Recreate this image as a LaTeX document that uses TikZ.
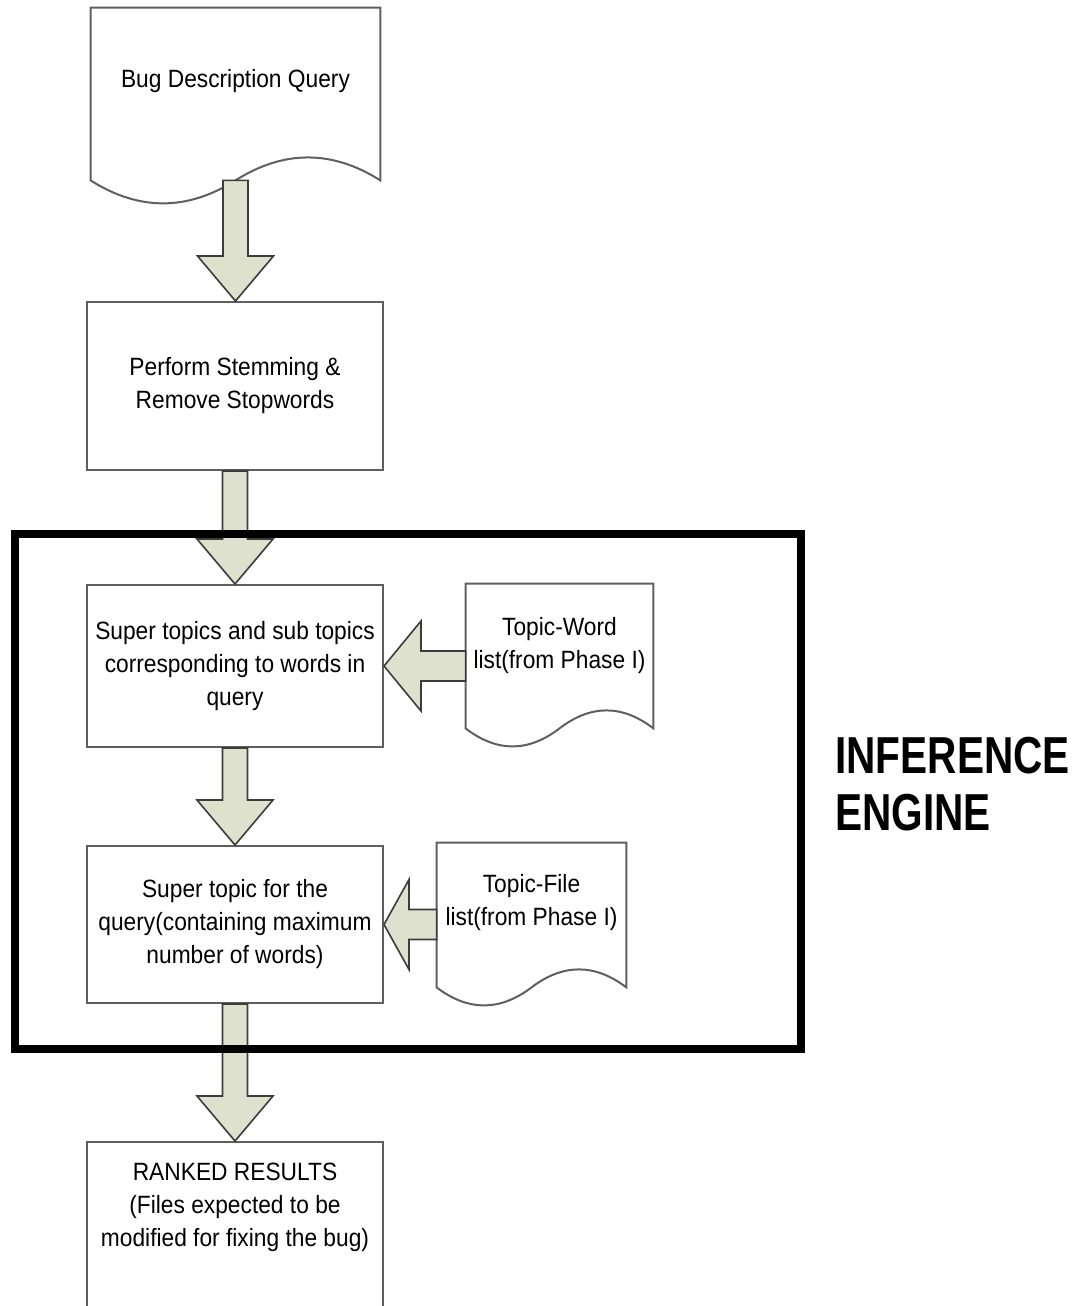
\documentclass[tikz,border=0pt]{standalone}
\usepackage{fontspec}
\setmainfont{Liberation Sans}[FakeStretch=0.91]
\newfontfamily\enginefont{Liberation Sans}[FakeStretch=0.78]
\usetikzlibrary{positioning, calc}
\definecolor{arrowsage}{RGB}{221,225,205}
\definecolor{arrowedge}{RGB}{60,60,60}
\definecolor{edgegray}{RGB}{95,95,95}

\tikzset{
  boxnode/.style={draw=edgegray, line width=1pt, minimum width=148pt, align=center,
    font=\fontsize{12.5pt}{16.5pt}\selectfont},
  docnode/.style={align=center, font=\fontsize{12.5pt}{16.5pt}\selectfont},
  docedge/.style={draw=edgegray, line width=1pt},
  blockarrow/.style={fill=arrowsage, draw=arrowedge, line width=0.8pt, line join=miter}
}

% block arrow going down, shaft from #1 to tip at #2
\newcommand{\flowdown}[2]{%
  \draw[blockarrow] let \p1=(#1), \p2=(#2) in
    (\x1-6.25pt,\y1) -- (\x1-6.25pt,\y2+22.5pt) -- (\x1-19pt,\y2+22.5pt) -- (\x1,\y2)
    -- (\x1+19pt,\y2+22.5pt) -- (\x1+6.25pt,\y2+22.5pt) -- (\x1+6.25pt,\y1) -- cycle;}

% block arrow going left, from #1 to tip at #2, head length #3
\newcommand{\flowleft}[3]{%
  \draw[blockarrow] let \p1=(#1), \p2=(#2) in
    (\x1,\y2+7.5pt) -- (\x2+#3,\y2+7.5pt) -- (\x2+#3,\y2+22.5pt) -- (\x2,\y2)
    -- (\x2+#3,\y2-22.5pt) -- (\x2+#3,\y2-7.5pt) -- (\x1,\y2-7.5pt) -- cycle;}

\begin{document}
\begin{tikzpicture}[x=0.5pt, y=-0.5pt]
\useasboundingbox (0,0) rectangle (1083,1306);
\clip (0,0) rectangle (1083,1306);

% documents
\node[docnode, minimum width=144.5pt, minimum height=73pt] (query) at (235.5,81) {Bug Description Query};
\node[docnode, minimum width=93.5pt, minimum height=61.5pt] (topicword) at (559.5,645.5) {Topic-Word\\list(from Phase I)};
\node[docnode, minimum width=94.5pt, minimum height=60pt] (topicfile) at (531.5,903) {Topic-File\\list(from Phase I)};

\foreach \d/\drop/\amp in {query/13pt/15.3pt, topicword/10.5pt/12pt, topicfile/12pt/12pt} {
  \draw[docedge] let \p1=(\d.south west), \p2=(\d.north east), \p3=($(\d.south east)-(\d.south west)$) in
    (\p1) |- (\p2) -- (\x2,\y1-\drop)
    .. controls (\x2-\x3/6,\y1-\drop+\amp) and (\x2-\x3/3,\y1-\drop+\amp) .. (\x2-\x3/2,\y1-\drop)
    .. controls (\x1+\x3/3,\y1-\drop-\amp) and (\x1+\x3/6,\y1-\drop-\amp) .. (\x1,\y1-\drop) -- cycle;
}

% process steps
\node[boxnode, minimum height=84pt] (stemming) at (235,386) {Perform Stemming \&\\Remove Stopwords};
\node[boxnode, minimum height=81pt] (topics) at (235,666) {Super topics and sub topics\\corresponding to words in\\query};
\node[boxnode, minimum height=78.5pt] (supertopic) at (235,924.5) {Super topic for the\\query(containing maximum\\number of words)};
\node[boxnode, minimum height=100pt, anchor=north] (ranked) at (235,1141) {};
\node[docnode, inner sep=0pt, below=11pt of ranked.north] (rankedtext) {RANKED RESULTS\\(Files expected to be\\modified for fixing the bug)};

% arrows
\flowdown{$(query.south)+(0,26)$}{stemming.north}
\flowdown{stemming.south}{topics.north}
\flowdown{topics.south}{supertopic.north}
\flowdown{supertopic.south}{ranked.north}
\flowleft{topicword.west |- topics.east}{topics.east}{18.5pt}
\flowleft{topicfile.west |- supertopic.east}{supertopic.east}{12.5pt}

% inference engine frame
\draw[line width=4pt] (15,534) rectangle (801,1049);
\node[anchor=west, align=left, inner sep=0pt, font=\enginefont\bfseries\fontsize{26pt}{28.5pt}\selectfont] (enginelabel) at (835,784) {INFERENCE\\ENGINE};
\end{tikzpicture}
\end{document}
